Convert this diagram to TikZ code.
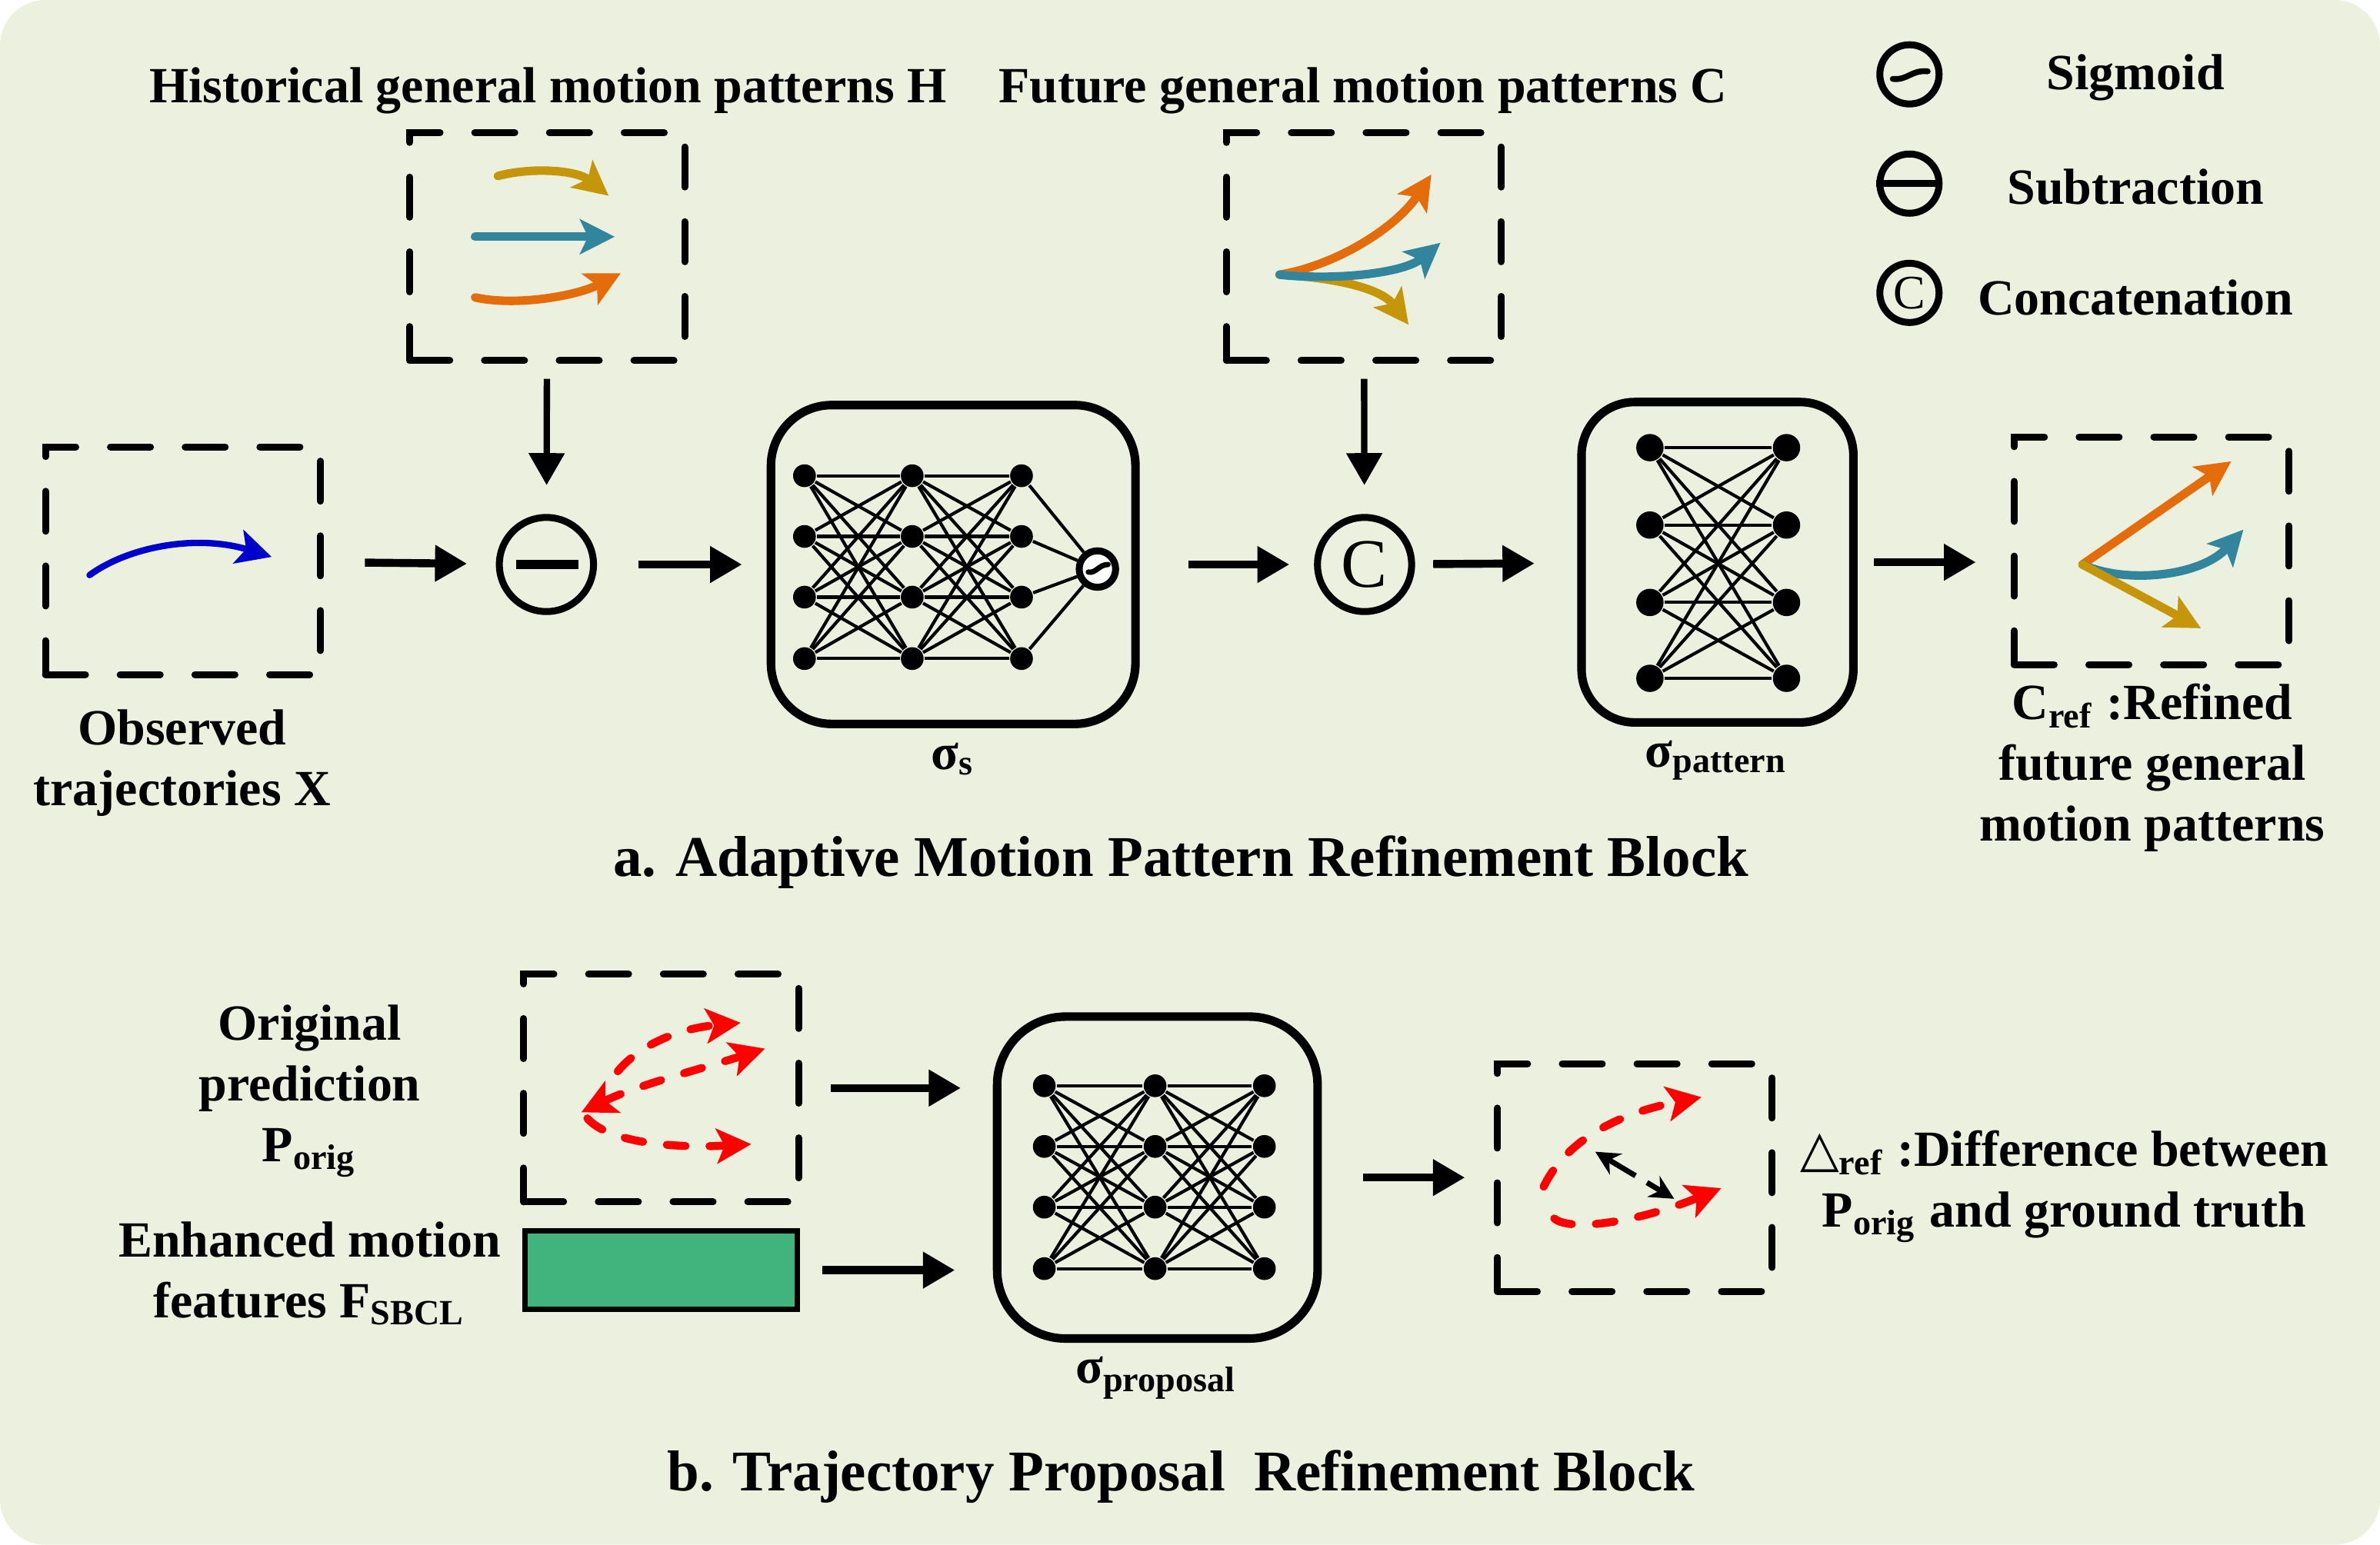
\documentclass[tikz,border=0pt]{standalone}
\usepackage{fontspec}
\setmainfont{Liberation Serif}
\newfontfamily\symfont{DejaVu Sans}
\usetikzlibrary{arrows.meta,positioning}
\definecolor{bgcol}{RGB}{235,241,222}
\definecolor{mgold}{RGB}{197,150,10}
\definecolor{mteal}{RGB}{49,133,156}
\definecolor{morange}{RGB}{228,108,10}
\definecolor{mblue}{RGB}{0,0,205}
\definecolor{mgreen}{RGB}{64,180,124}
\begin{document}
\begin{tikzpicture}[x=0.01cm,y=-0.01cm,>={Stealth[length=6.5pt,width=6.5pt,inset=1.5pt]}]
\tikzstyle{txt}=[font=\fontsize{9.5}{11.4}\selectfont\bfseries, align=center, inner sep=0pt, yshift=-0.03cm]
\tikzstyle{dbox}=[draw, line width=1.3pt, dash pattern=on 7.5pt off 6.5pt, line cap=round, minimum width=1.81cm, minimum height=1.5cm, inner sep=0pt]
\tikzstyle{netbox}=[draw, line width=1.6pt, rounded corners=0.4cm, inner sep=0pt]
\tikzstyle{neuron}=[circle, fill, inner sep=0pt, minimum size=0.15cm]
\tikzstyle{opc}=[circle, draw, line width=1.3pt, inner sep=0pt, minimum size=0.62cm]
\tikzstyle{flow}=[-{Triangle[length=6pt,width=6.5pt]}, line width=1.5pt]
\tikzstyle{traj}=[->, line width=1.6pt, line cap=round]
\tikzstyle{pred}=[traj, red, line width=1.5pt, dash pattern=on 3.5pt off 4.5pt]

\fill[bgcol, rounded corners=0.3cm] (0,0) rectangle (1568,1018);
\useasboundingbox (0,0) rectangle (1568,1018);

% titles and legend
\node[txt] (htitle) at (361,57) {Historical general motion patterns H};
\node[txt] (ctitle) at (898,57) {Future general motion patterns C};
\node[opc, minimum size=0.39cm] (lsig) at (1258,49) {};
\draw[line width=1.1pt, line cap=round] (1247,52) .. controls (1257,53) and (1259,46) .. (1270,47);
\node[txt] (tsig) at (1407,48) {Sigmoid};
\node[opc, minimum size=0.39cm] (lsub) at (1258,121) {};
\draw[line width=1.3pt] (lsub.west) -- (lsub.east);
\node[txt] (tsub) at (1407,120) {Subtraction};
\node[opc, minimum size=0.39cm, font=\fontsize{9}{9}\selectfont] (lcat) at (1258,193) {C};
\node[txt] (tcat) at (1407,193) {Concatenation};

% dashed boxes
\node[dbox] (obs) at (120.5,369.5) {};
\node[dbox] (hbox) at (360.5,162.5) {};
\node[dbox] (cbox) at (898.5,162.5) {};
\node[dbox] (refbox) at (1417.5,363) {};
\node[dbox] (origbox) at (435.5,717) {};
\node[dbox] (diffbox) at (1077,776) {};
\node[draw, line width=1pt, fill=mgreen, minimum width=1.79cm, minimum height=0.52cm, inner sep=0pt] (feat) at (435.5,837) {};

% trajectories
\draw[traj, mblue, line width=1.2pt] (59,379) .. controls (85,360) and (130,352) .. (179,367);
\draw[traj, mgold] (328,116) .. controls (350,110) and (380,112) .. (401,129);
\draw[traj, mteal] (313,156) -- (405,156);
\draw[traj, morange] (313,196) .. controls (340,202) and (380,195) .. (409,180);
\draw[traj, morange] (843,181) .. controls (880,175) and (920,150) .. (943,115);
\draw[traj, mgold] (843,181) .. controls (880,183) and (910,190) .. (928,214);
\draw[traj, mteal] (843,181) .. controls (880,185) and (925,180) .. (949,160);
\draw[traj, morange] (1372,372) -- (1470,304);
\draw[traj, mteal] (1372,372) .. controls (1400,385) and (1450,380) .. (1478,349);
\draw[traj, mgold] (1372,372) -- (1450,414);
\draw[pred] (407,706) .. controls (420,690) and (445,678) .. (488,674);
\draw[pred, <->] (383,733) .. controls (420,715) and (460,705) .. (504,691);
\draw[pred] (387,737) .. controls (400,752) and (440,757) .. (495,754);
\draw[pred] (1017,782) .. controls (1030,755) and (1060,735) .. (1121,723);
\draw[pred] (1024,803) .. controls (1035,812) and (1080,805) .. (1134,783);
\draw[<->, >={Stealth[length=4.5pt,width=4.5pt]}, line width=1pt, dash pattern=on 6pt off 2.5pt] (1051,759) -- (1103,790);

% operators
\node[opc] (sub) at (360,372) {};
\draw[line width=1.8pt] (340,372) -- (381,372);
\node[opc, font=\fontsize{13}{13}\selectfont] (cat) at (899,372) {C};

% sigma_s
\node[netbox, minimum width=2.4cm, minimum height=2.1cm] (ns) at (628,372) {};
\foreach \c/\x in {a/530,b/601,c/673}
  \foreach \r/\y in {1/313.5,2/353.5,3/393.5,4/434}
    \node[neuron] (s\c\r) at (\x,\y) {};
\foreach \i in {1,...,4}
  \foreach \j in {1,...,4} {
    \draw[line width=0.6pt] (sa\i) -- (sb\j);
    \draw[line width=0.6pt] (sb\i) -- (sc\j);
  }
\node[circle, draw, fill=white, line width=1.3pt, minimum size=0.24cm, inner sep=0pt] (ssig) at (723,375) {};
\foreach \i in {1,...,4}
  \draw[line width=0.6pt] (sc\i) -- (ssig);
\draw[line width=1pt, line cap=round] (717,377) .. controls (722,378) and (724,372) .. (730,372);
\node[txt] (slbl) at (628,497) {σ\textsubscript{s}};

% sigma_pattern
\node[netbox, rounded corners=0.35cm, minimum width=1.79cm, minimum height=2.11cm] (np) at (1131.5,370.5) {};
\foreach \c/\x in {a/1087,b/1177}
  \foreach \r/\y in {1/295,2/346,3/397,4/447}
    \node[neuron, minimum size=0.18cm] (p\c\r) at (\x,\y) {};
\foreach \i in {1,...,4}
  \foreach \j in {1,...,4}
    \draw[line width=0.6pt] (pa\i) -- (pb\j);
\node[txt] (plbl) at (1131,498) {σ\textsubscript{pattern}};

% sigma_proposal
\node[netbox, rounded corners=0.45cm, minimum width=2.11cm, minimum height=2.12cm] (pn) at (762.5,776) {};
\foreach \c/\x in {a/688,b/761,c/833}
  \foreach \r/\y in {1/715.5,2/755.5,3/795.5,4/836}
    \node[neuron] (r\c\r) at (\x,\y) {};
\foreach \i in {1,...,4}
  \foreach \j in {1,...,4} {
    \draw[line width=0.6pt] (ra\i) -- (rb\j);
    \draw[line width=0.6pt] (rb\i) -- (rc\j);
  }
\node[txt] (rlbl) at (762,905) {σ\textsubscript{proposal}};

% connectors
\foreach \from/\to/\s/\e in {obs/sub/7.7/5.4, sub/ns/7.7/4.6, ns/cat/9.1/4.6, cat/np/3.4/8}
  \draw[flow, shorten <=\s pt, shorten >=\e pt] (\from) -- (\to);
\foreach \from/\to in {hbox/sub, cbox/cat}
  \draw[flow, line width=1.2pt, shorten <=2.8pt, shorten >=5.4pt] (\from) -- (\to);
\draw[flow, shorten <=3.1pt, shorten >=6.5pt] (np) -- (np -| refbox.west);
\draw[flow, shorten <=5.4pt, shorten >=6pt] (origbox) -- (origbox -| pn.west);
\draw[flow, shorten <=4.3pt, shorten >=7.1pt] (feat) -- (feat -| pn.west);
\draw[flow, shorten <=7.7pt, shorten >=5.4pt] (pn) -- (diffbox);

% labels
\node[txt] (obslbl) at (120,500) {Observed\\trajectories X};
\node[txt] (reflbl) at (1418,503) {C\textsubscript{ref} :Refined\\future general\\motion patterns};
\node[txt, font=\fontsize{10.8}{13}\selectfont\bfseries] (atitle) at (778,565) {a. Adaptive Motion Pattern Refinement Block};
\node[txt] (origlbl) at (204,716) {Original\\prediction\\P\textsubscript{orig}};
\node[txt] (featlbl) at (204,836) {Enhanced motion\\features F\textsubscript{SBCL}};
\node[txt] (difflbl) at (1360,779) {{\symfont\mdseries △}\textsubscript{ref} :Difference between\\P\textsubscript{orig} and ground truth};
\node[txt, font=\fontsize{10.8}{13}\selectfont\bfseries] (btitle) at (778,970) {b. Trajectory Proposal~~Refinement Block};
\end{tikzpicture}
\end{document}
